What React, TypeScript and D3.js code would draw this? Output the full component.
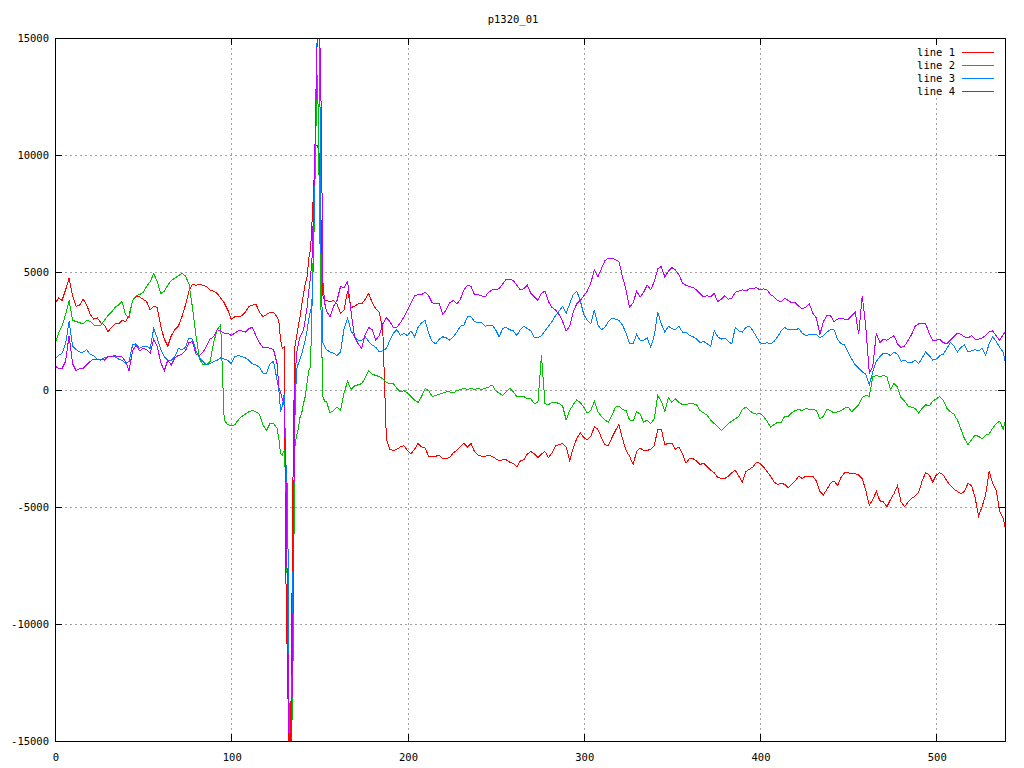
import React from 'react';
import * as d3 from 'd3';

const TITLE = 'p1320_01';
const X_TICKS = [0, 100, 200, 300, 400, 500];
const Y_TICKS = [-15000, -10000, -5000, 0, 5000, 10000, 15000];
const SERIES_NAMES = ['line 1', 'line 2', 'line 3', 'line 4'];
const COLORS = ['#ff0000', '#00c000', '#0080ff', '#c000ff'];

// sample positions (step 2, finer around the burst near x=130-150)
const X_VALUES: number[] = [
  ...d3.range(0, 127, 2),
  ...d3.range(127, 154),
  ...d3.range(154, 539, 2),
  539,
];

const LINE1: number[] = [
  3650, 3900, 3800, 4250, 4750, 4000, 3550, 3600, 3850, 3600,
  3200, 3000, 3050, 2850, 2750, 2450, 2650, 2800, 2800, 2950,
  2900, 3150, 3800, 3950, 3950, 3850, 3750, 3400, 3550, 3500,
  2700, 2150, 1850, 2300, 2550, 2700, 3100, 3600, 4200, 4500,
  4450, 4500, 4450, 4400, 4250, 4200, 4100, 3900, 3700, 3400,
  3000, 3100, 3100, 3150, 3300, 3550, 3600, 3650, 3300, 3100,
  3200, 3300, 3300, 3100,
  2900, 2100, 1750, 1800, -8000, -12500, -16000, -13000, -4000, 1800,
  2200, 2700, 3100, 3600, 4100, 4500, 4800, 5600, 6000, 7400,
  9000, 10400, 10400, 10000, 7000, 4000, 3800,
  3800, 3750, 3800, 3650, 3250, 3400, 4200, 3500, 3550, 3650,
  3650, 3850, 4100, 3700, 3450, 3300, 2500, -2100, -2550, -2600,
  -2550, -2450, -2400, -2600, -2750, -2550, -2300, -2450, -2500, -2850,
  -2850, -2850, -2800, -2950, -2950, -2900, -2700, -2600, -2450, -2300,
  -2450, -2300, -2650, -2800, -2850, -2850, -2800, -2850, -2950, -3050,
  -3000, -3000, -3100, -3150, -3300, -3050, -3000, -2750, -2650, -2750,
  -2900, -2750, -2650, -2900, -2700, -2400, -2350, -2300, -2450, -3050,
  -2500, -2100, -1850, -2050, -2150, -2000, -1600, -1700, -2050, -2350,
  -2400, -2050, -1750, -1500, -2100, -2600, -2850, -3200, -2650, -2500,
  -2600, -2600, -2550, -2400, -1700, -1700, -2350, -2300, -2300, -2550,
  -2450, -2750, -3150, -2950, -2950, -3050, -3200, -3150, -3300, -3450,
  -3550, -3750, -3800, -3800, -3700, -3550, -3450, -3700, -3950, -3500,
  -3400, -3300, -3100, -3150, -3300, -3500, -3700, -3950, -4050, -4000,
  -4050, -4200, -4050, -3900, -3700, -3800, -3700, -3700, -3700, -3900,
  -4350, -4500, -4250, -4000, -3900, -4100, -3750, -3550, -3550, -3600,
  -3600, -3650, -3800, -4300, -4950, -4700, -4350, -4750, -4800, -5000,
  -4700, -4450, -4100, -4800, -5000, -4800, -4650, -4550, -4400, -3900,
  -3550, -3650, -3950, -3650, -3550, -3650, -3900, -4100, -4250, -4350,
  -4450, -4350, -4000, -4100, -4600, -5400, -5000, -4500, -3500, -4000,
  -4300, -5200, -5500, -5850,
];

const LINE2: number[] = [
  1950, 2400, 2700, 3200, 3800, 2950, 2900, 2850, 2800, 2950,
  2900, 2750, 2750, 2750, 2950, 3150, 3300, 3500, 3600, 3750,
  3200, 3050, 3800, 4000, 4050, 4150, 4400, 4600, 4950, 4600,
  4100, 4200, 4450, 4650, 4750, 4850, 4950, 4850, 4500, 3500,
  2300, 1300, 1050, 1050, 1200, 2000, 2550, 2750, -1300, -1500,
  -1550, -1500, -1300, -1150, -1050, -950, -900, -950, -1050, -1500,
  -1750, -1450, -1450, -1650,
  -2100, -2750, -2800, -2600, -4000, -10000, -16000, -16000, -12000, -2500,
  -2000, -1700, -1200, -1000, -600, -300, 300, 800, 950, 4500,
  6800, 11000, 13400, 8000, 3000, -300, -500,
  -500, -1000, -900, -750, -900, -150, 350, 0, 150, 200,
  250, 500, 800, 650, 600, 550, 450, 300, 250, 250,
  50, -100, -50, -150, -300, -450, -550, -300, 50, -50,
  -300, -250, -200, -150, -100, -100, -150, -50, 0, 50,
  0, 50, 0, 50, 0, 50, 100, 200, -50, -150,
  -250, -100, 50, -100, -300, -300, -300, -400, -400, -600,
  -550, 1450, -600, -650, -550, -550, -600, -700, -1300, -900,
  -650, -450, -550, -750, -1000, -900, -500, -950, -1150, -1300,
  -1400, -1100, -750, -700, -850, -900, -1300, -1350, -950, -1050,
  -1400, -1300, -1450, -1250, -250, -500, -950, -350, -550, -400,
  -550, -650, -650, -600, -600, -650, -900, -1000, -1100, -1300,
  -1450, -1600, -1750, -1600, -1450, -1350, -1250, -1150, -850, -750,
  -900, -1000, -1050, -1000, -1150, -1350, -1600, -1500, -1400, -1400,
  -1150, -1150, -1000, -900, -850, -900, -800, -850, -850, -900,
  -1250, -1150, -850, -900, -1000, -950, -900, -800, -750, -950,
  -800, -650, -350, -250, -300, 550, 600, 550, 600, 550,
  0, 250, 100, -350, -500, -700, -750, -800, -1000, -800,
  -650, -700, -500, -400, -300, -450, -800, -950, -1050, -1300,
  -1700, -2100, -2350, -2150, -1950, -2000, -2100, -1950, -1900, -1650,
  -1450, -1350, -1700, -1400,
];

const LINE3: number[] = [
  1300, 1450, 1550, 1950, 2900, 1850, 1700, 1600, 1600, 1700,
  1500, 1450, 1300, 1250, 1350, 1400, 1400, 1400, 1300, 1250,
  1100, 1200, 1900, 1950, 1750, 1850, 1850, 1750, 2600, 2200,
  1700, 1400, 1250, 1250, 1400, 1750, 1700, 1800, 2200, 2150,
  1650, 1350, 1200, 1050, 1100, 1200, 1250, 1350, 1300, 1250,
  1100, 1400, 1450, 1400, 1350, 1250, 1100, 1050, 950, 700,
  700, 1100, 1200, 400,
  0, -950, -700, -200, -3100, -4500, -16000, -16000, -8000, -1500,
  850, 1100, 1300, 1500, 1800, 2100, 2500, 3000, 3400, 3600,
  7200, 12500, 16000, 16000, 5000, 2000, 1850,
  1700, 1600, 1550, 1450, 1600, 2600, 3050, 2500, 2250, 2100,
  2100, 2250, 2050, 1900, 1800, 1600, 1650, 1750, 2100, 2400,
  2550, 2300, 2400, 2300, 2500, 2250, 2650, 2850, 2950, 2400,
  2050, 1950, 2150, 2250, 2200, 2100, 2250, 2450, 2700, 2750,
  3100, 3100, 2900, 2850, 2850, 2700, 2750, 2750, 2550, 2250,
  2600, 2650, 2550, 2500, 2300, 2550, 2700, 2600, 2500, 2200,
  2200, 2300, 2500, 2700, 2900, 3150, 3350, 3550, 3250, 3650,
  4050, 4200, 3800, 3200, 2950, 2800, 3400, 2750, 2550, 2650,
  2900, 3050, 3000, 2950, 2750, 2400, 1950, 1950, 2350, 2100,
  2100, 2200, 1800, 2300, 3300, 2800, 2450, 2700, 2600, 2550,
  2700, 2450, 2450, 2300, 2250, 2150, 2000, 2050, 1950, 1850,
  2500, 2250, 2150, 2200, 2050, 1950, 2650, 2500, 2450, 2650,
  2700, 2500, 2250, 2000, 1950, 2000, 1950, 2050, 2250, 2500,
  2650, 2550, 2550, 2550, 2600, 2400, 2300, 2350, 2350, 2350,
  2200, 2300, 2450, 2550, 2550, 2150, 1950, 1900, 1600, 1300,
  1050, 900, 750, 650, 200, 750, 1200, 1400, 1550, 1550,
  1450, 1600, 1500, 1200, 1250, 1150, 1150, 1250, 1100, 1350,
  1600, 1450, 1250, 1300, 1450, 1500, 1750, 2000, 1850, 1600,
  1800, 1900, 1600, 1650, 1700, 1650, 1750, 1450, 1950, 2250,
  2050, 1800, 1600, 1200,
];

const LINE4: number[] = [
  1000, 900, 900, 1200, 2300, 1100, 800, 900, 900, 1050,
  1200, 1300, 1300, 1300, 1250, 1400, 1400, 1450, 1400, 1400,
  1200, 800, 1650, 1900, 1650, 1750, 1700, 1550, 2150, 1850,
  1150, 800, 1250, 1050, 1350, 1450, 1500, 1650, 2000, 2050,
  1500, 1450, 1600, 1850, 2150, 2250, 2550, 2500, 2400, 2400,
  2300, 2400, 2500, 2500, 2450, 2600, 2650, 2300, 2000, 1800,
  1800, 1750, 1700, 1100,
  100, -150, -400, -700, -3500, -10000, -16000, -16000, -10000, 0,
  1500, 1900, 2250, 2400, 2550, 3000, 3500, 4200, 4800, 5800,
  8800, 12000, 16000, 16000, 12000, 4600, 3700,
  3350, 3100, 3550, 3800, 4400, 4350, 4600, 3300, 2250, 1950,
  1750, 2350, 2650, 2550, 2100, 2300, 2800, 3050, 2900, 2650,
  2650, 2850, 3100, 3400, 3700, 4000, 4050, 4050, 4150, 4000,
  3700, 3650, 3650, 3200, 3400, 3700, 3800, 3650, 3850, 4250,
  4450, 4400, 4050, 4050, 4000, 3950, 4150, 4250, 4250, 4300,
  4500, 4700, 4700, 4650, 4450, 4250, 4300, 4450, 4100, 3950,
  3800, 4100, 4200, 3750, 3500, 3400, 3200, 2900, 2500, 2700,
  3300, 3650, 3800, 4000, 4200, 4550, 5100, 4800, 5150, 5500,
  5600, 5600, 5550, 5450, 4800, 4250, 3500, 3700, 4200, 3950,
  4150, 4450, 4250, 4600, 5150, 5250, 4800, 5050, 5200, 5100,
  4900, 4550, 4450, 4400, 4350, 4250, 4100, 3950, 4000, 3950,
  4100, 3750, 3850, 4000, 3850, 3900, 4150, 4200, 4250, 4200,
  4300, 4300, 4350, 4250, 4300, 4250, 4050, 3950, 3800, 3750,
  3900, 3800, 3700, 3700, 3550, 3450, 3500, 3650, 3250, 3050,
  2350, 2900, 3150, 3150, 2900, 3000, 3050, 3000, 3000, 3150,
  3300, 2350, 4000, 2700, 700, 1000, 2400, 2000, 2150, 2100,
  2200, 2300, 1950, 1800, 1850, 2100, 2350, 2700, 2800, 2800,
  2800, 2400, 2100, 2100, 2150, 2000, 1950, 2100, 2250, 2400,
  2350, 2250, 2200, 2300, 2150, 2150, 2200, 2300, 2450, 2500,
  2300, 2100, 2350, 2450,
];

const SERIES = [LINE1, LINE2, LINE3, LINE4];

const FONT = '"DejaVu Sans Mono", "Liberation Mono", monospace';

export default function App() {
  const W = 1024;
  const H = 768;
  const L = 55, R = 1005, T = 38, B = 741;
  const x = d3.scaleLinear().domain([0, 539]).range([L, R]);
  const y = d3.scaleLinear().domain([-15000, 15000]).range([B, T]);
  const tick = 7;

  const makePath = (vals: number[]) => {
    const pts: [number, number][] = [];
    const n = Math.min(vals.length, X_VALUES.length);
    for (let i = 0; i < n; i++) pts.push([X_VALUES[i], vals[i]]);
    return d3.line<[number, number]>()
      .x((d) => x(d[0]))
      .y((d) => y(d[1]))(pts) || '';
  };

  const snap = (v: number) => Math.round(v) + 0.5;

  return (
    <svg
      width={W}
      height={H}
      viewBox={`0 0 ${W} ${H}`}
      style={{ position: 'absolute', left: 0, top: 0, background: '#fff' }}
      fontFamily={FONT}
      fontSize={10.5}
    >
      <rect x={0} y={0} width={W} height={H} fill="#fff" />
      <defs>
        <clipPath id="plotClip">
          <rect x={L} y={T} width={R - L} height={B - T} />
        </clipPath>
      </defs>

      {/* grid */}
      <g stroke="#a0a0a0" strokeWidth={1} strokeDasharray="2,3" shapeRendering="crispEdges">
        {X_TICKS.filter((t) => t > 0).map((t) => (
          <line key={'gx' + t} x1={snap(x(t))} x2={snap(x(t))} y1={T} y2={B} />
        ))}
        {Y_TICKS.filter((t) => t > -15000 && t < 15000).map((t) => (
          <line key={'gy' + t} x1={L} x2={R} y1={snap(y(t))} y2={snap(y(t))} />
        ))}
      </g>

      {/* key background masks the grid */}
      <rect x={912} y={45} width={92} height={53} fill="#fff" />

      {/* data */}
      <g clipPath="url(#plotClip)" fill="none" strokeWidth={1} shapeRendering="crispEdges">
        {SERIES.map((s, i) => (
          <path key={'s' + i} d={makePath(s)} stroke={COLORS[i]} />
        ))}
      </g>

      {/* border and ticks */}
      <g stroke="#000" strokeWidth={1} shapeRendering="crispEdges" fill="none">
        <rect x={L + 0.5} y={T + 0.5} width={R - L} height={B - T} />
        {X_TICKS.map((t) => (
          <g key={'tx' + t}>
            <line x1={snap(x(t))} x2={snap(x(t))} y1={B} y2={B - tick} />
            <line x1={snap(x(t))} x2={snap(x(t))} y1={T} y2={T + tick} />
          </g>
        ))}
        {Y_TICKS.map((t) => (
          <g key={'ty' + t}>
            <line x1={L} x2={L + tick} y1={snap(y(t))} y2={snap(y(t))} />
            <line x1={R} x2={R - tick} y1={snap(y(t))} y2={snap(y(t))} />
          </g>
        ))}
      </g>

      {/* tick labels */}
      <g fill="#000">
        {Y_TICKS.map((t) => (
          <text key={'ly' + t} x={49} y={y(t) + 4} textAnchor="end">
            {String(t)}
          </text>
        ))}
        {X_TICKS.map((t) => (
          <text key={'lx' + t} x={x(t) + 1} y={761} textAnchor="middle">
            {String(t)}
          </text>
        ))}
      </g>

      {/* title */}
      <text x={513} y={23} textAnchor="middle" fill="#000">
        {TITLE}
      </text>

      {/* legend */}
      <g>
        {SERIES_NAMES.map((name, i) => {
          const cy = 52 + i * 13;
          return (
            <g key={'lg' + i}>
              <text x={955} y={cy + 4} textAnchor="end" fill="#000">
                {name}
              </text>
              <line
                x1={962}
                x2={994}
                y1={cy + 0.5}
                y2={cy + 0.5}
                stroke={COLORS[i]}
                strokeWidth={1}
                shapeRendering="crispEdges"
              />
            </g>
          );
        })}
      </g>
    </svg>
  );
}
